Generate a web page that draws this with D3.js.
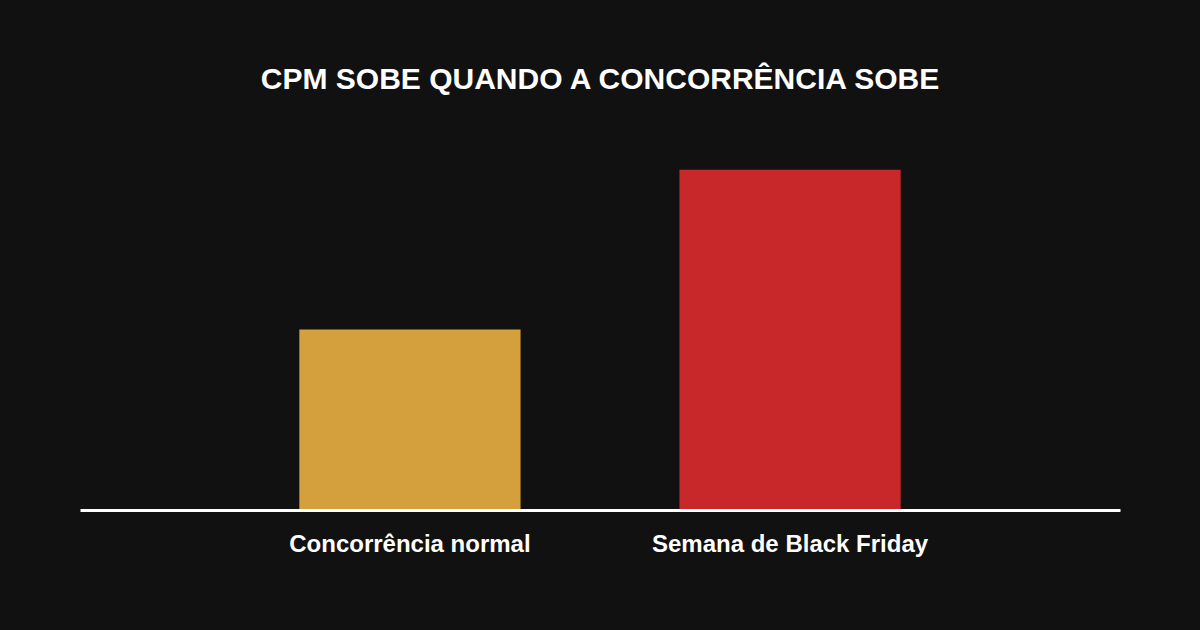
<!DOCTYPE html>
<meta charset="utf-8">
<head>
    <script type="text/javascript" src="https://d3js.org/d3.v7.min.js"></script>
    <style>
        html, body { margin: 0; padding: 0; background: #111111; }
    </style>
</head>
<body>
<div id="chart"></div>
</body>
<script>
    // data
    var categories = ["Concorrência normal", "Semana de Black Friday"];
    var cpmValues = [100, 189];
    var barColors = ["#D4A03D", "#C8282A"];
    var title = "CPM SOBE QUANDO A CONCORRÊNCIA SOBE";

    var width = 1200, height = 630;
    var margin = {top: 150, right: 80, bottom: 121, left: 80};

    var svg = d3.select("#chart").append("svg")
        .attr("width", width)
        .attr("height", height)
        .style("display", "block");

    svg.append("rect")
        .attr("width", width)
        .attr("height", height)
        .attr("fill", "#111111");

    var x = d3.scaleBand()
        .domain(categories)
        .range([margin.left, width - margin.right])
        .paddingInner(0.418)
        .paddingOuter(0.577);

    var y = d3.scaleLinear()
        .domain([0, 200])
        .range([height - margin.bottom, margin.top]);

    // bars
    svg.selectAll(".bar")
        .data(categories)
        .enter().append("rect")
        .attr("class", "bar")
        .attr("x", d => x(d))
        .attr("width", x.bandwidth())
        .attr("y", (d, i) => y(cpmValues[i]))
        .attr("height", (d, i) => y(0) - y(cpmValues[i]))
        .attr("fill", (d, i) => barColors[i]);

    // baseline + labels
    var xAxis = svg.append("g")
        .attr("transform", "translate(0," + (y(0) + 1) + ")")
        .call(d3.axisBottom(x).tickSize(0).tickPadding(25));
    xAxis.select(".domain").attr("stroke", "#ffffff").attr("stroke-width", 3);
    xAxis.selectAll("text")
        .attr("fill", "#ffffff")
        .style("font-family", "'Liberation Sans', Arial, sans-serif")
        .style("font-weight", "bold")
        .style("font-size", "24px");

    svg.append("text")
        .attr("x", width / 2)
        .attr("y", 89)
        .attr("text-anchor", "middle")
        .attr("fill", "#ffffff")
        .style("font-family", "'Liberation Sans', Arial, sans-serif")
        .style("font-weight", "bold")
        .style("font-size", "30px")
        .text(title);
</script>
</html>
